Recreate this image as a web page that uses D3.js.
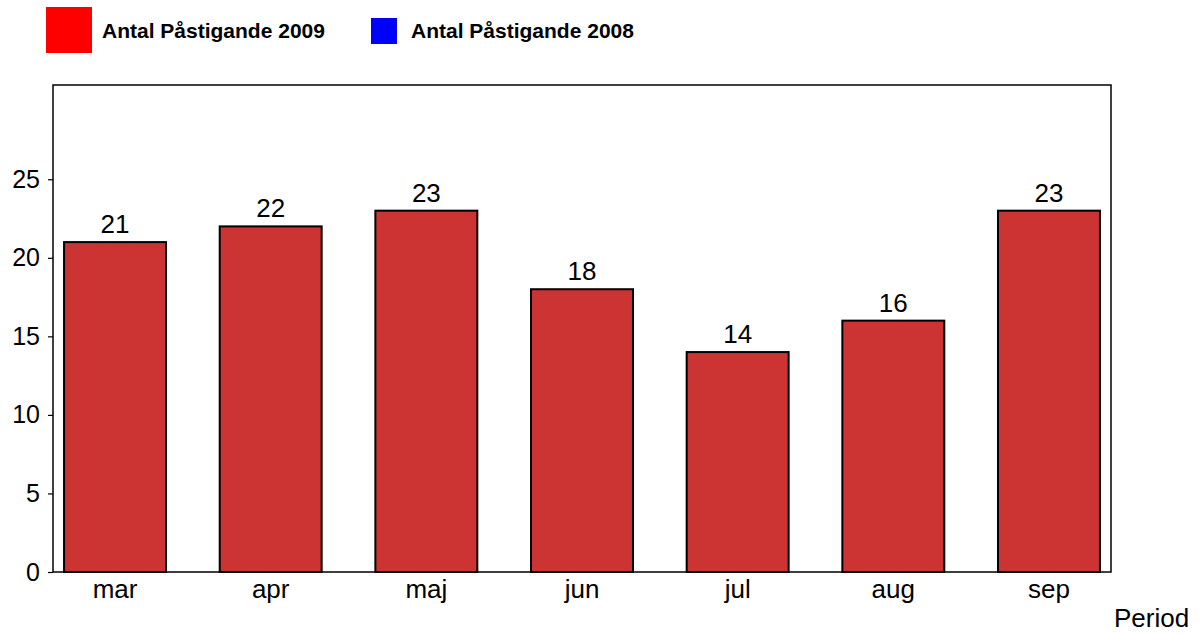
<!DOCTYPE html>
<html><head><meta charset="utf-8">
<script src="https://cdn.jsdelivr.net/npm/d3@7/dist/d3.min.js"></script>
<style>body{margin:0;background:#fff}svg{display:block}text{font-family:"Liberation Sans",Arial,sans-serif}</style>
</head><body>
<script>
const categories = ["mar","apr","maj","jun","jul","aug","sep"];
const values2009 = [21,22,23,18,14,16,23];
const yTicks = [0,5,10,15,20,25];
const legendLabels = ["Antal Påstigande 2009","Antal Påstigande 2008"];
const legendColors = ["#ff0000","#0000ff"];
const xTitle = "Period";

const W=1202,H=634;
const svg=d3.select("body").append("svg").attr("width",W).attr("height",H);
const L=53,T=85,R=1111,B=572;
const x=d3.scaleBand().domain(categories).range([L,R]).paddingInner(0.345).paddingOuter(0.071);
const y=d3.scaleLinear().domain([0,31]).range([B,T]);

// frame
svg.append("rect").attr("x",L).attr("y",T).attr("width",R-L).attr("height",B-T)
  .attr("fill","none").attr("stroke","#000").attr("stroke-width",1.5);

// y axis
const ya=svg.append("g").attr("transform",`translate(${L},0)`)
  .call(d3.axisLeft(y).tickValues(yTicks).tickSize(5).tickSizeOuter(0).tickPadding(8));
ya.select(".domain").remove();
ya.selectAll("line").attr("stroke","#000").attr("stroke-width",1.2);
ya.selectAll("text").attr("font-size",25).attr("fill","#000").style("font-family","Liberation Sans, Arial, sans-serif");

// bars
svg.selectAll(".bar").data(values2009).join("rect")
  .attr("x",(d,i)=>x(categories[i])).attr("y",d=>y(d))
  .attr("width",x.bandwidth()).attr("height",d=>y(0)-y(d))
  .attr("fill","#cc3333").attr("stroke","#000").attr("stroke-width",2);

// value labels
svg.selectAll(".vl").data(values2009).join("text")
  .attr("x",(d,i)=>x(categories[i])+x.bandwidth()/2).attr("y",d=>y(d)-9)
  .attr("text-anchor","middle").attr("font-size",26).text(d=>d);

// x labels
svg.selectAll(".xl").data(categories).join("text")
  .attr("x",d=>x(d)+x.bandwidth()/2).attr("y",598)
  .attr("text-anchor","middle").attr("font-size",26).text(d=>d);

svg.append("text").attr("x",1114).attr("y",627).attr("font-size",26).text(xTitle);

// legend
svg.append("rect").attr("x",46).attr("y",7).attr("width",46).attr("height",46).attr("fill",legendColors[0]);
svg.append("text").attr("x",102).attr("y",38).attr("font-size",21).attr("font-weight","bold").text(legendLabels[0]);
svg.append("rect").attr("x",371).attr("y",18).attr("width",26).attr("height",26).attr("fill",legendColors[1]);
svg.append("text").attr("x",411).attr("y",38).attr("font-size",21).attr("font-weight","bold").text(legendLabels[1]);
</script>
</body></html>
